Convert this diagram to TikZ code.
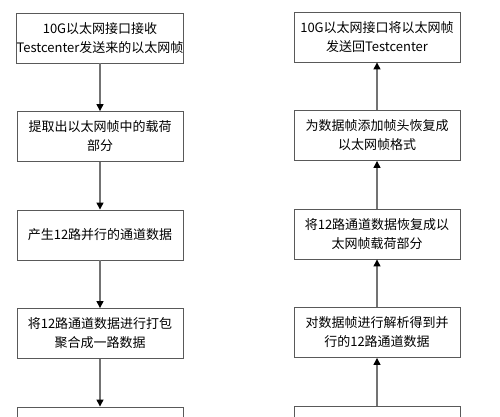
\documentclass[tikz,border=0pt]{standalone}
\usepackage{fontspec}
\setmainfont{Noto Sans CJK SC}
\usetikzlibrary{positioning,arrows.meta}

\begin{document}
\begin{tikzpicture} [x=1pt, y=-1pt, node distance=98.5pt, block/.style={rectangle, draw=black!65, line width=0.9pt, align=center, minimum width=166pt, minimum height=50pt, inner sep=0pt}, line/.style={draw=black!55, line width=1.4pt, -{Triangle[length=7pt, width=7pt, color=black]}}]
\useasboundingbox (0,0) rectangle (500,416);
\clip (0,0) rectangle (500,416);
{\fontsize{13}{19}\selectfont
  %% Receive path
  \node [block] (recv) at (100,38) {10G以太网接口接收\\Testcenter发送来的以太网帧};
  \node [block, below of=recv] (extract) {提取出以太网帧中的载荷\\部分};
  \node [block, below of=extract] (split) {产生12路并行的通道数据};
  \node [block, below of=split] (pack) {将12路通道数据进行打包\\聚合成一路数据};
  \node [block, below of=pack] (lowleft) {};
  %% Send path
  \node [block] (send) at (377,37) {10G以太网接口将以太网帧\\发送回Testcenter};
  \node [block, below of=send] (header) {为数据帧添加帧头恢复成\\以太网帧格式};
  \node [block, below of=header] (restore) {将12路通道数据恢复成以\\太网帧载荷部分};
  \node [block, below of=restore] (parse) {对数据帧进行解析得到并\\行的12路通道数据};
  \node [block, below of=parse] (lowright) {};
  % Draw edges
  \draw [line] (recv) -- (extract);
  \draw [line] (extract) -- (split);
  \draw [line] (split) -- (pack);
  \draw [line] (pack) -- (lowleft);
  \draw [line] (header) -- (send);
  \draw [line] (restore) -- (header);
  \draw [line] (parse) -- (restore);
  \draw [line] (lowright) -- (parse);
}
\end{tikzpicture}
\end{document}
